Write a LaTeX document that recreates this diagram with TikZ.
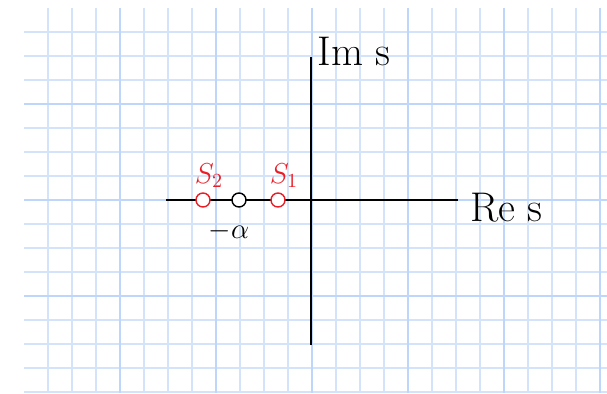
\documentclass[tikz,border=0pt]{standalone}
\usepackage{tikz}
\usetikzlibrary{positioning}
\definecolor{gridblue}{RGB}{210,227,250}
\definecolor{gridbold}{RGB}{190,214,250}
\definecolor{polered}{RGB}{235,30,40}

\begin{document}
\begin{tikzpicture}[
  x=0.5pt,y=-0.5pt,
  minor/.style={draw=gridblue,line width=0.55pt},
  major/.style={draw=gridbold,line width=1.1pt},
  axis/.style={draw=black,line width=1pt},
  pole/.style={circle,draw,line width=0.7pt,fill=white,minimum size=7pt,inner sep=0pt},
  lbl/.style={inner sep=1pt},
]
\useasboundingbox[fill=white] (0,0) rectangle (607,393);

% graph paper
\foreach \x in {48,72,...,600} \draw[minor] (\x,8) -- (\x,393);
\foreach \y in {32,56,...,392} \draw[minor] (24,\y) -- (607,\y);
\foreach \x in {120,216,...,600} \draw[major] (\x,8) -- (\x,393);
\foreach \y in {104,200,296} \draw[major] (24,\y) -- (607,\y);

% s-plane axes
\coordinate (xl) at (166,200);
\coordinate (xr) at (458,200);
\coordinate (yt) at (311,57);
\coordinate (yb) at (311,345);
\draw[axis] (xl) -- (xr);
\draw[axis] (yb) -- (yt);
\node[lbl,font=\huge,right=5pt of xr,yshift=-4pt] (re) {Re s};
\node[lbl,font=\huge,right=2pt of yt,yshift=3pt] (im) {Im s};

% roots and the point -alpha
\node[pole,draw=polered] (s2) at (203,200) {};
\node[pole,draw=black] (a) at (239,200) {};
\node[pole,draw=polered] (s1) at (278,200) {};
\node[lbl,font=\Large,text=polered,above=1pt of s2,xshift=3pt] (s2l) {$S_2$};
\node[lbl,font=\Large,text=polered,above=1pt of s1,xshift=3pt] (s1l) {$S_1$};
\node[lbl,font=\Large,below=6pt of a,xshift=-5pt] (al) {$-\alpha$};
\end{tikzpicture}
\end{document}
